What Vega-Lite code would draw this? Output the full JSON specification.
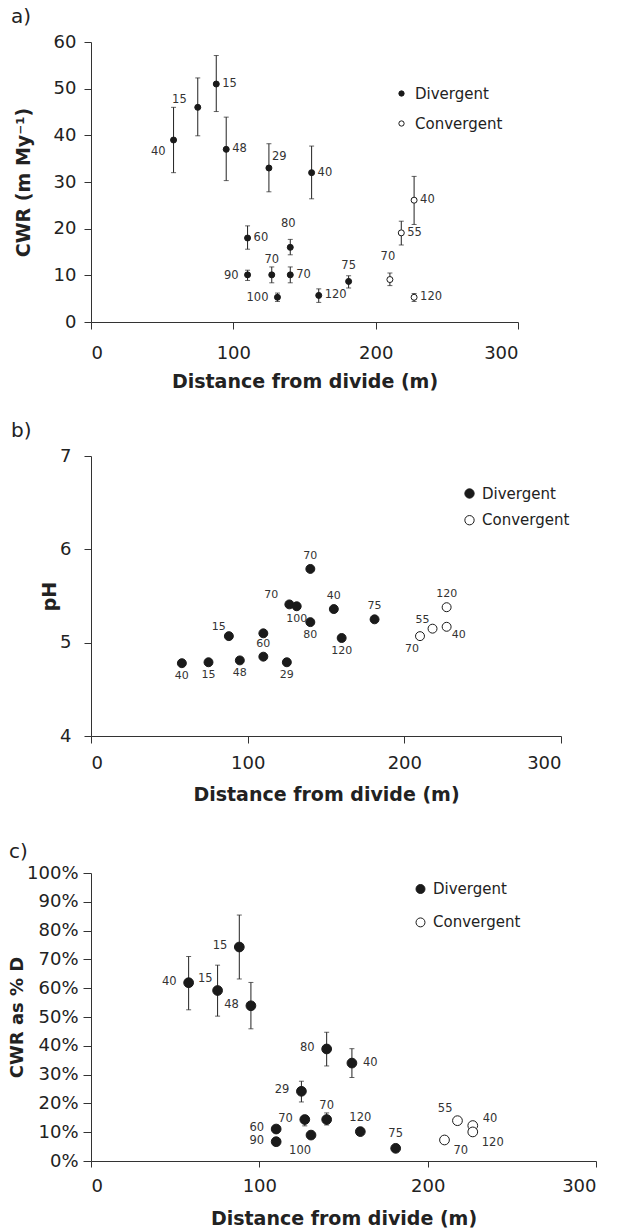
{
  "$schema": "https://vega.github.io/schema/vega-lite/v6.json",
  "padding": {"left": 8, "top": 7, "right": 0, "bottom": 0},
  "config": {
    "font": "DejaVu Sans",
    "view": {"stroke": null},
    "axis": {"grid": false, "domainColor": "#333", "tickColor": "#333", "labelColor": "#222", "titleColor": "#222", "labelFontSize": 18, "titleFontSize": 19, "titleFontWeight": "bold", "domainWidth": 1, "tickWidth": 1},
    "title": {"font": "DejaVu Sans"}
  },
  "spacing": 38,
  "resolve": {"scale": {"x": "independent", "y": "independent", "fill": "independent"}},
  "vconcat": [
    {
      "spacing": 30,
      "resolve": {"scale": {"x": "independent", "y": "independent", "fill": "independent"}},
      "vconcat": [
        {
          "width": 427,
          "height": 280,
          "title": {"text": "a)", "anchor": "start", "frame": "group", "dx": -80, "fontSize": 20, "fontWeight": "normal", "color": "#222", "offset": 5.7},
          "data": {"values": [
            {"x": 58, "y": 39, "lo": 32, "hi": 46, "lab": "40", "pos": "bl", "kind": "Divergent"},
            {"x": 75, "y": 46, "lo": 39.9, "hi": 52.3, "lab": "15", "pos": "al", "kind": "Divergent"},
            {"x": 88, "y": 51, "lo": 45.1, "hi": 57.1, "lab": "15", "pos": "r", "kind": "Divergent"},
            {"x": 95, "y": 37, "lo": 30.3, "hi": 43.9, "lab": "48", "pos": "r", "kind": "Divergent"},
            {"x": 125, "y": 33, "lo": 27.9, "hi": 38.2, "lab": "29", "pos": "ar", "kind": "Divergent"},
            {"x": 155, "y": 32, "lo": 26.4, "hi": 37.7, "lab": "40", "pos": "r", "kind": "Divergent"},
            {"x": 110, "y": 18, "lo": 15.6, "hi": 20.6, "lab": "60", "pos": "r", "kind": "Divergent"},
            {"x": 140, "y": 16, "lo": 14.4, "hi": 17.7, "lab": "80", "pos": "a2", "kind": "Divergent"},
            {"x": 110, "y": 10.1, "lo": 8.9, "hi": 11.1, "lab": "90", "pos": "l", "kind": "Divergent"},
            {"x": 127, "y": 10.1, "lo": 8.4, "hi": 11.8, "lab": "70", "pos": "a", "kind": "Divergent"},
            {"x": 140, "y": 10.1, "lo": 8.4, "hi": 11.8, "lab": "70", "pos": "r", "kind": "Divergent"},
            {"x": 131, "y": 5.3, "lo": 4.4, "hi": 6.2, "lab": "100", "pos": "l", "kind": "Divergent"},
            {"x": 160, "y": 5.7, "lo": 4.2, "hi": 7.1, "lab": "120", "pos": "r", "kind": "Divergent"},
            {"x": 181, "y": 8.7, "lo": 7.3, "hi": 9.9, "lab": "75", "pos": "a", "kind": "Divergent"},
            {"x": 210, "y": 9.1, "lo": 7.8, "hi": 10.5, "lab": "70", "pos": "a2", "kind": "Convergent"},
            {"x": 227, "y": 5.3, "lo": 4.4, "hi": 6.1, "lab": "120", "pos": "r", "kind": "Convergent"},
            {"x": 218, "y": 19.1, "lo": 16.5, "hi": 21.6, "lab": "55", "pos": "r", "kind": "Convergent"},
            {"x": 227, "y": 26.1, "lo": 20.9, "hi": 31.2, "lab": "40", "pos": "r", "kind": "Convergent"}
          ]},
          "encoding": {
            "x": {"field": "x", "type": "quantitative", "scale": {"domain": [0, 300], "nice": false}, "axis": {"values": [0, 100, 200, 300], "title": "Distance from divide (m)", "tickSize": 7, "labelPadding": 15, "titlePadding": 10}},
            "y": {"field": "y", "type": "quantitative", "scale": {"domain": [0, 60], "nice": false}, "axis": {"values": [0, 10, 20, 30, 40, 50, 60], "title": "CWR (m My⁻¹)", "tickSize": 7, "labelPadding": 8, "titlePadding": 20}}
          },
          "layer": [
            {"mark": {"type": "errorbar", "ticks": {"size": 5, "color": "#222", "thickness": 1}, "rule": {"color": "#222", "strokeWidth": 1}},
             "encoding": {"y": {"field": "lo", "type": "quantitative", "title": "CWR (m My⁻¹)"}, "y2": {"field": "hi"}}},
            {"mark": {"type": "circle", "size": 36, "stroke": "#1a1a1a", "strokeWidth": 1, "opacity": 1},
             "encoding": {"fill": {"field": "kind", "type": "nominal", "scale": {"domain": ["Divergent", "Convergent"], "range": ["#1a1a1a", "#ffffff"]},
               "legend": {"orient": "none", "legendX": 303, "legendY": 44, "title": null, "symbolType": "circle", "symbolSize": 28, "symbolStrokeColor": "#1a1a1a", "symbolStrokeWidth": 1, "labelFontSize": 15, "labelColor": "#222", "rowPadding": 14, "labelOffset": 6, "padding": 0}}}},
            {"transform": [{"filter": "datum.pos === 'r'"}], "mark": {"type": "text", "align": "left", "baseline": "middle", "dx": 6, "fontSize": 11.5, "color": "#333"}, "encoding": {"text": {"field": "lab"}}},
            {"transform": [{"filter": "datum.pos === 'l'"}], "mark": {"type": "text", "align": "right", "baseline": "middle", "dx": -9, "dy": 1, "fontSize": 11.5, "color": "#333"}, "encoding": {"text": {"field": "lab"}}},
            {"transform": [{"filter": "datum.pos === 'a'"}], "mark": {"type": "text", "align": "center", "baseline": "middle", "dy": -15, "fontSize": 11.5, "color": "#333"}, "encoding": {"text": {"field": "lab"}}},
            {"transform": [{"filter": "datum.pos === 'a2'"}], "mark": {"type": "text", "align": "center", "baseline": "middle", "dx": -2, "dy": -23, "fontSize": 11.5, "color": "#333"}, "encoding": {"text": {"field": "lab"}}},
            {"transform": [{"filter": "datum.pos === 'al'"}], "mark": {"type": "text", "align": "right", "baseline": "middle", "dx": -11, "dy": -7, "fontSize": 11.5, "color": "#333"}, "encoding": {"text": {"field": "lab"}}},
            {"transform": [{"filter": "datum.pos === 'ar'"}], "mark": {"type": "text", "align": "left", "baseline": "middle", "dx": 3, "dy": -11, "fontSize": 11.5, "color": "#333"}, "encoding": {"text": {"field": "lab"}}},
            {"transform": [{"filter": "datum.pos === 'bl'"}], "mark": {"type": "text", "align": "right", "baseline": "middle", "dx": -8, "dy": 12, "fontSize": 11.5, "color": "#333"}, "encoding": {"text": {"field": "lab"}}}
          ]
        },
        {
          "width": 470,
          "height": 280,
          "title": {"text": "b)", "anchor": "start", "frame": "group", "dx": -80, "fontSize": 20, "fontWeight": "normal", "color": "#222", "offset": 6},
          "data": {"values": [
            {"x": 58, "y": 4.78, "lab": "40", "pos": "b", "kind": "Divergent"},
            {"x": 75, "y": 4.79, "lab": "15", "pos": "b", "kind": "Divergent"},
            {"x": 88, "y": 5.07, "lab": "15", "pos": "al", "kind": "Divergent"},
            {"x": 95, "y": 4.81, "lab": "48", "pos": "b", "kind": "Divergent"},
            {"x": 110, "y": 5.10, "lab": "", "pos": "none", "kind": "Divergent"},
            {"x": 110, "y": 4.85, "lab": "60", "pos": "a", "kind": "Divergent"},
            {"x": 125, "y": 4.79, "lab": "29", "pos": "b", "kind": "Divergent"},
            {"x": 126.6, "y": 5.41, "lab": "70", "pos": "al2", "kind": "Divergent"},
            {"x": 131.3, "y": 5.39, "lab": "100", "pos": "b", "kind": "Divergent"},
            {"x": 140, "y": 5.79, "lab": "70", "pos": "a", "kind": "Divergent"},
            {"x": 140, "y": 5.22, "lab": "80", "pos": "b", "kind": "Divergent"},
            {"x": 155, "y": 5.36, "lab": "40", "pos": "a", "kind": "Divergent"},
            {"x": 160, "y": 5.05, "lab": "120", "pos": "b", "kind": "Divergent"},
            {"x": 181, "y": 5.25, "lab": "75", "pos": "a", "kind": "Divergent"},
            {"x": 210, "y": 5.07, "lab": "70", "pos": "bl", "kind": "Convergent"},
            {"x": 218, "y": 5.15, "lab": "55", "pos": "al", "kind": "Convergent"},
            {"x": 227, "y": 5.17, "lab": "40", "pos": "br", "kind": "Convergent"},
            {"x": 227, "y": 5.38, "lab": "120", "pos": "a", "kind": "Convergent"}
          ]},
          "encoding": {
            "x": {"field": "x", "type": "quantitative", "scale": {"domain": [0, 300], "nice": false}, "axis": {"values": [0, 100, 200, 300], "title": "Distance from divide (m)", "tickSize": 7, "labelPadding": 11, "titlePadding": 13}},
            "y": {"field": "y", "type": "quantitative", "scale": {"domain": [4, 7], "nice": false, "zero": false}, "axis": {"values": [4, 5, 6, 7], "title": "pH", "tickSize": 7, "labelPadding": 13, "titlePadding": 0}}
          },
          "layer": [
            {"mark": {"type": "circle", "size": 80, "stroke": "#1a1a1a", "strokeWidth": 1, "opacity": 1},
             "encoding": {"fill": {"field": "kind", "type": "nominal", "scale": {"domain": ["Divergent", "Convergent"], "range": ["#1a1a1a", "#ffffff"]},
               "legend": {"orient": "none", "legendX": 371, "legendY": 30, "title": null, "symbolType": "circle", "symbolSize": 87, "symbolStrokeColor": "#1a1a1a", "symbolStrokeWidth": 1, "labelFontSize": 15, "labelColor": "#222", "rowPadding": 10.7, "labelOffset": 5, "padding": 0}}}},
            {"transform": [{"filter": "datum.pos === 'a'"}], "mark": {"type": "text", "align": "center", "baseline": "middle", "dy": -13, "fontSize": 11, "color": "#333"}, "encoding": {"text": {"field": "lab"}}},
            {"transform": [{"filter": "datum.pos === 'b'"}], "mark": {"type": "text", "align": "center", "baseline": "middle", "dy": 13, "fontSize": 11, "color": "#333"}, "encoding": {"text": {"field": "lab"}}},
            {"transform": [{"filter": "datum.pos === 'al'"}], "mark": {"type": "text", "align": "right", "baseline": "middle", "dx": -3, "dy": -9, "fontSize": 11, "color": "#333"}, "encoding": {"text": {"field": "lab"}}},
            {"transform": [{"filter": "datum.pos === 'al2'"}], "mark": {"type": "text", "align": "right", "baseline": "middle", "dx": -11, "dy": -9, "fontSize": 11, "color": "#333"}, "encoding": {"text": {"field": "lab"}}},
            {"transform": [{"filter": "datum.pos === 'bl'"}], "mark": {"type": "text", "align": "right", "baseline": "middle", "dx": -1, "dy": 13, "fontSize": 11, "color": "#333"}, "encoding": {"text": {"field": "lab"}}},
            {"transform": [{"filter": "datum.pos === 'br'"}], "mark": {"type": "text", "align": "left", "baseline": "middle", "dx": 5, "dy": 8, "fontSize": 11, "color": "#333"}, "encoding": {"text": {"field": "lab"}}}
          ]
        }
      ]
    },
    {
      "width": 505,
      "height": 288,
      "title": {"text": "c)", "anchor": "start", "frame": "group", "dx": -82, "fontSize": 20, "fontWeight": "normal", "color": "#222", "offset": 2},
      "data": {"values": [
        {"x": 58, "y": 61.9, "lo": 52.5, "hi": 71, "lab": "40", "pos": "l", "kind": "Divergent"},
        {"x": 75.2, "y": 59.2, "lo": 50.3, "hi": 68, "lab": "15", "pos": "al", "kind": "Divergent"},
        {"x": 88.1, "y": 74.3, "lo": 63.2, "hi": 85.4, "lab": "15", "pos": "l", "kind": "Divergent"},
        {"x": 95, "y": 53.9, "lo": 45.9, "hi": 62, "lab": "48", "pos": "l", "kind": "Divergent"},
        {"x": 110, "y": 11.1, "lo": null, "hi": null, "lab": "60", "pos": "l", "kind": "Divergent"},
        {"x": 110, "y": 6.7, "lo": null, "hi": null, "lab": "90", "pos": "l", "kind": "Divergent"},
        {"x": 125, "y": 24.2, "lo": 20.5, "hi": 27.7, "lab": "29", "pos": "l", "kind": "Divergent"},
        {"x": 127, "y": 14.4, "lo": 12.2, "hi": 15.7, "lab": "70", "pos": "l", "kind": "Divergent"},
        {"x": 130.7, "y": 9.0, "lo": null, "hi": null, "lab": "100", "pos": "bl", "kind": "Divergent"},
        {"x": 140, "y": 38.9, "lo": 33, "hi": 44.7, "lab": "80", "pos": "l", "kind": "Divergent"},
        {"x": 140, "y": 14.4, "lo": 12.5, "hi": 16.7, "lab": "70", "pos": "a", "kind": "Divergent"},
        {"x": 155, "y": 34, "lo": 29, "hi": 39, "lab": "40", "pos": "r", "kind": "Divergent"},
        {"x": 160, "y": 10.2, "lo": null, "hi": null, "lab": "120", "pos": "a", "kind": "Divergent"},
        {"x": 181, "y": 4.4, "lo": null, "hi": null, "lab": "75", "pos": "a", "kind": "Divergent"},
        {"x": 210, "y": 7.3, "lo": null, "hi": null, "lab": "70", "pos": "br", "kind": "Convergent"},
        {"x": 217.7, "y": 14, "lo": null, "hi": null, "lab": "55", "pos": "al", "kind": "Convergent"},
        {"x": 226.8, "y": 12.3, "lo": null, "hi": null, "lab": "40", "pos": "ar", "kind": "Convergent"},
        {"x": 226.8, "y": 10.1, "lo": null, "hi": null, "lab": "120", "pos": "br", "kind": "Convergent"}
      ]},
      "encoding": {
        "x": {"field": "x", "type": "quantitative", "scale": {"domain": [0, 300], "nice": false}, "axis": {"values": [0, 100, 200, 300], "title": "Distance from divide (m)", "tickSize": 6, "labelPadding": 10, "titlePadding": 14}},
        "y": {"field": "y", "type": "quantitative", "scale": {"domain": [0, 100], "nice": false}, "axis": {"values": [0, 10, 20, 30, 40, 50, 60, 70, 80, 90, 100], "labelExpr": "datum.value + '%'", "title": "CWR as % D", "titleFontSize": 18, "tickSize": 8, "labelPadding": 5, "titlePadding": 0}}
      },
      "layer": [
        {"transform": [{"filter": "datum.lo != null"}],
         "mark": {"type": "errorbar", "ticks": {"size": 5, "color": "#222", "thickness": 1}, "rule": {"color": "#222", "strokeWidth": 1}},
         "encoding": {"y": {"field": "lo", "type": "quantitative", "title": "CWR as % D"}, "y2": {"field": "hi"}}},
        {"mark": {"type": "circle", "size": 95, "stroke": "#1a1a1a", "strokeWidth": 1, "opacity": 1},
         "encoding": {"fill": {"field": "kind", "type": "nominal", "scale": {"domain": ["Divergent", "Convergent"], "range": ["#1a1a1a", "#ffffff"]},
           "legend": {"orient": "none", "legendX": 322, "legendY": 8.5, "title": null, "symbolType": "circle", "symbolSize": 80, "symbolStrokeColor": "#1a1a1a", "symbolStrokeWidth": 1, "labelFontSize": 15, "labelColor": "#222", "rowPadding": 17.4, "labelOffset": 5, "padding": 0}}}},
        {"transform": [{"filter": "datum.pos === 'l'"}], "mark": {"type": "text", "align": "right", "baseline": "middle", "dx": -12, "dy": -1, "fontSize": 11.5, "color": "#333"}, "encoding": {"text": {"field": "lab"}}},
        {"transform": [{"filter": "datum.pos === 'r'"}], "mark": {"type": "text", "align": "left", "baseline": "middle", "dx": 11, "fontSize": 11.5, "color": "#333"}, "encoding": {"text": {"field": "lab"}}},
        {"transform": [{"filter": "datum.pos === 'a'"}], "mark": {"type": "text", "align": "center", "baseline": "middle", "dy": -14, "fontSize": 11.5, "color": "#333"}, "encoding": {"text": {"field": "lab"}}},
        {"transform": [{"filter": "datum.pos === 'al'"}], "mark": {"type": "text", "align": "right", "baseline": "middle", "dx": -5, "dy": -12, "fontSize": 11.5, "color": "#333"}, "encoding": {"text": {"field": "lab"}}},
        {"transform": [{"filter": "datum.pos === 'ar'"}], "mark": {"type": "text", "align": "left", "baseline": "middle", "dx": 10, "dy": -7, "fontSize": 11.5, "color": "#333"}, "encoding": {"text": {"field": "lab"}}},
        {"transform": [{"filter": "datum.pos === 'bl'"}], "mark": {"type": "text", "align": "right", "baseline": "middle", "dx": 0, "dy": 16, "fontSize": 11.5, "color": "#333"}, "encoding": {"text": {"field": "lab"}}},
        {"transform": [{"filter": "datum.pos === 'br'"}], "mark": {"type": "text", "align": "left", "baseline": "middle", "dx": 9, "dy": 11, "fontSize": 11.5, "color": "#333"}, "encoding": {"text": {"field": "lab"}}}
      ]
    }
  ]
}
